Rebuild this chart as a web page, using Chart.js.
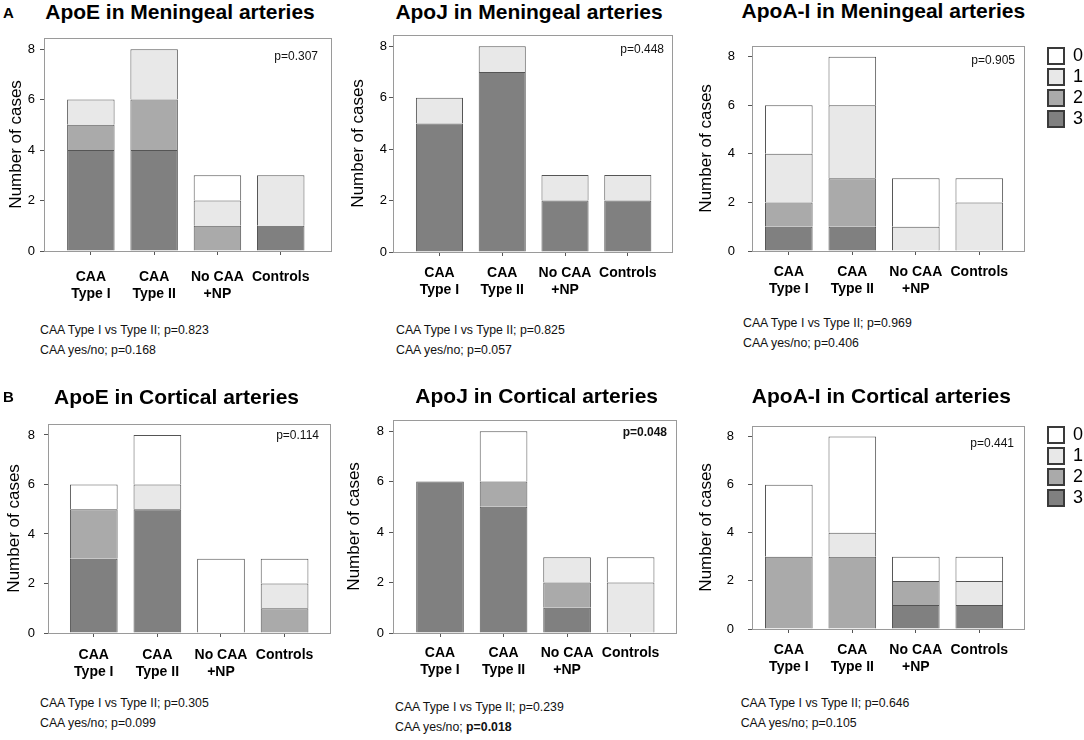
<!DOCTYPE html>
<html><head><meta charset="utf-8">
<script src="https://cdn.jsdelivr.net/npm/chart.js@4.4.1/dist/chart.umd.min.js"></script>
<style>
html,body{margin:0;padding:0;background:#fff;width:1084px;height:740px;overflow:hidden;font-family:"Liberation Sans",Arial,sans-serif;}
canvas{position:absolute;}
.t{position:absolute;white-space:nowrap;line-height:1;color:#000;}
</style></head><body>
<script>
// ---------- DATA ----------
const categoryLabels = [['CAA','Type I'],['CAA','Type II'],['No CAA','+NP'],['Controls']];
const scoreLabels = ['3','2','1','0'];          // stacked bottom -> top
const yTickValues = [0,2,4,6,8];

// ApoE in Meningeal arteries (score 3,2,1,0 per category)
const apoEMen3 = [4,4,0,1], apoEMen2 = [1,2,1,0], apoEMen1 = [1,2,1,2], apoEMen0 = [0,0,1,0];
// ApoJ in Meningeal arteries
const apoJMen3 = [5,7,2,2], apoJMen2 = [0,0,0,0], apoJMen1 = [1,1,1,1], apoJMen0 = [0,0,0,0];
// ApoA-I in Meningeal arteries
const apoAMen3 = [1,1,0,0], apoAMen2 = [1,2,0,0], apoAMen1 = [2,3,1,2], apoAMen0 = [2,2,2,1];
// ApoE in Cortical arteries
const apoECor3 = [3,5,0,0], apoECor2 = [2,0,0,1], apoECor1 = [0,1,0,1], apoECor0 = [1,2,3,1];
// ApoJ in Cortical arteries
const apoJCor3 = [6,5,1,0], apoJCor2 = [0,1,1,0], apoJCor1 = [0,0,1,2], apoJCor0 = [0,2,0,1];
// ApoA-I in Cortical arteries
const apoACor3 = [0,0,1,1], apoACor2 = [3,3,1,0], apoACor1 = [0,1,0,1], apoACor0 = [3,4,1,1];

const panelTitles = ['ApoE in Meningeal arteries','ApoJ in Meningeal arteries','ApoA-I in Meningeal arteries',
                     'ApoE in Cortical arteries','ApoJ in Cortical arteries','ApoA-I in Cortical arteries'];
const panelPValues = ['p=0.307','p=0.448','p=0.905','p=0.114','p=0.048','p=0.441'];
const typeVsTypeP = ['p=0.823','p=0.825','p=0.969','p=0.305','p=0.239','p=0.646'];
const yesNoP = ['p=0.168','p=0.057','p=0.406','p=0.099','p=0.018','p=0.105'];
const significantPanelP = [false,false,false,false,true,false];
const significantYesNoP = [false,false,false,false,true,false];
const panelSeries = [
  [apoEMen3,apoEMen2,apoEMen1,apoEMen0],
  [apoJMen3,apoJMen2,apoJMen1,apoJMen0],
  [apoAMen3,apoAMen2,apoAMen1,apoAMen0],
  [apoECor3,apoECor2,apoECor1,apoECor0],
  [apoJCor3,apoJCor2,apoJCor1,apoJCor0],
  [apoACor3,apoACor2,apoACor1,apoACor0]
];

// ---------- STYLE / LAYOUT ----------
const FONT = '"Liberation Sans", Arial, sans-serif';
const scoreFill = ['#808080','#aaaaaa','#e8e8e8','#ffffff'];
const layout = [
  {L:44, R:332, T:33, B:251, cl:0,   xmin:-0.74, xmax:3.81, yTitleX:16.5, yPad:5,  xPad:13.8, pdx:14, pdy:14, legend:false, tcx:180,   tb:18.5,  nx:40,    nb:334.5},
  {L:393,R:673, T:33, B:252, cl:340, xmin:-0.74, xmax:3.72, yTitleX:358,  yPad:2,  xPad:8.8,  pdx:9,  pdy:10, legend:false, tcx:529,   tb:18.5,  nx:396,   nb:334.5},
  {L:752,R:1025,T:33, B:251, cl:690, xmin:-0.58, xmax:3.72, yTitleX:706,  yPad:13, xPad:8.8,  pdx:10, pdy:10, legend:true,  tcx:883.4, tb:17.5,  nx:743,   nb:327.5},
  {L:48, R:331, T:415,B:633, cl:0,   xmin:-0.72, xmax:3.73, yTitleX:14,   yPad:9,  xPad:9.8,  pdx:12, pdy:7,  legend:false, tcx:176.5, tb:403.3, nx:40,    nb:707},
  {L:393,R:677, T:415,B:633, cl:340, xmin:-0.74, xmax:3.73, yTitleX:354,  yPad:5,  xPad:7.8,  pdx:10, pdy:8,  legend:false, tcx:536.7, tb:403,   nx:395,   nb:711},
  {L:752,R:1026,T:412,B:629, cl:690, xmin:-0.58, xmax:3.72, yTitleX:706,  yPad:14, xPad:8.8,  pdx:11, pdy:13, legend:true,  tcx:881.4, tb:402.3, nx:740.7, nb:707.5}
];
const X_AXIS_H = 62, TOP_PAD = 8, RIGHT_PAD = 8;
const LEGEND_LEFT_OFFSET = 20;   // gap chart area -> legend
const LEGEND_WIDTH = 39;

function addText(html, left, top, css) {
  const d = document.createElement('div');
  d.className = 't';
  d.innerHTML = html;
  d.style.left = left + 'px';
  d.style.top = top + 'px';
  Object.assign(d.style, css || {});
  document.body.appendChild(d);
  return d;
}

const framePlugin = {
  id: 'frame',
  afterDatasetsDraw(chart) {
    const a = chart.chartArea, ctx = chart.ctx;
    ctx.save();
    ctx.strokeStyle = '#9a9a9a';
    ctx.lineWidth = 1;
    ctx.strokeRect(Math.round(a.left) + 0.5, Math.round(a.top) + 0.5,
                   Math.round(a.right - a.left) - 1, Math.round(a.bottom - a.top));
    ctx.restore();
  }
};
const pValuePlugin = {
  id: 'pvalue',
  afterDraw(chart, args, opts) {
    const a = chart.chartArea, ctx = chart.ctx;
    ctx.save();
    ctx.font = (opts.bold ? 'bold ' : '') + '12px ' + FONT;
    ctx.fillStyle = '#111';
    ctx.textAlign = 'right';
    ctx.textBaseline = 'alphabetic';
    ctx.fillText(opts.text, a.right - opts.dx, a.top + opts.dy + 8.6);
    ctx.restore();
  }
};

layout.forEach((g, p) => {
  const ct = g.T - TOP_PAD;
  const cw = g.legend ? (1084 - g.cl) : (g.R + RIGHT_PAD - g.cl);
  const ch = g.B + X_AXIS_H - ct;
  const cv = document.createElement('canvas');
  cv.width = cw; cv.height = ch;
  cv.style.left = g.cl + 'px'; cv.style.top = ct + 'px';
  document.body.appendChild(cv);

  const series = panelSeries[p];
  const scales = {
    x: {
      type: 'linear', min: g.xmin, max: g.xmax, bounds: 'data', stacked: true, offset: false,
      afterBuildTicks: s => { s.ticks = categoryLabels.map((c, i) => ({value: i})); },
      afterFit: s => { s.height = X_AXIS_H; },
      grid: {display: true, offset: false, drawOnChartArea: false, drawTicks: true, tickLength: 4, tickColor: '#555', color: '#555'},
      border: {display: false},
      ticks: {autoSkip: false, maxRotation: 0, minRotation: 0, padding: g.xPad, color: '#000',
              font: {family: FONT, size: 14, weight: 'bold', lineHeight: 1.2},
              callback: v => categoryLabels[v]}
    },
    y: {
      type: 'linear', min: 0, max: 8.45, bounds: 'data', stacked: true,
      afterBuildTicks: s => { s.ticks = yTickValues.map(v => ({value: v})); },
      afterFit: s => { s.width = g.L - g.cl; },
      grid: {display: true, drawOnChartArea: false, drawTicks: true, tickLength: 4, tickColor: '#555', color: '#555'},
      border: {display: false},
      ticks: {padding: g.yPad, color: '#000', font: {family: FONT, size: 13}},
      title: {display: true, text: 'Number of cases', color: '#000',
              font: {family: FONT, size: 17, lineHeight: 1.2},
              padding: {top: Math.max(0, g.yTitleX - g.cl - 10.2), bottom: 0}}
    }
  };
  if (g.legend) {
    scales.y2 = {
      type: 'linear', position: 'right', display: true,
      grid: {display: false}, ticks: {display: false}, border: {display: false},
      afterFit: s => { s.width = LEGEND_LEFT_OFFSET; }
    };
  }

  new Chart(cv, {
    type: 'bar',
    data: {
      datasets: scoreLabels.map((s, k) => ({
        label: s,
        data: series[k].map((v, i) => ({x: i, y: v})),
        backgroundColor: scoreFill[k],
        borderColor: '#555',
        borderWidth: 1,
        barPercentage: 0.75,
        categoryPercentage: 1
      }))
    },
    options: {
      responsive: false,
      animation: false,
      layout: {padding: {top: TOP_PAD, right: g.legend ? 0 : RIGHT_PAD, bottom: 0, left: 0}},
      scales,
      plugins: {
        tooltip: {enabled: false},
        legend: {
          display: g.legend,
          position: 'right',
          align: 'start',
          maxWidth: LEGEND_WIDTH,
          title: {display: true, text: '', padding: 0, font: {size: 11, lineHeight: 1}},
          labels: {
            boxWidth: 16, boxHeight: 16, padding: 3, color: '#000',
            font: {family: FONT, size: 18},
            generateLabels: chart => {
              const items = Chart.defaults.plugins.legend.labels.generateLabels(chart);
              items.forEach(it => { it.lineWidth = 2; it.strokeStyle = '#3a3a3a'; });
              return items.reverse();
            }
          }
        },
        pvalue: {text: panelPValues[p], bold: significantPanelP[p], dx: g.pdx, dy: g.pdy}
      }
    },
    plugins: [framePlugin, pValuePlugin]
  });

  // title
  addText(panelTitles[p], g.tcx, g.tb - 0.8465 * 21,
          {fontSize: '21px', fontWeight: 'bold', transform: 'translateX(-50%)'});
  // notes
  addText('CAA Type I vs Type II; ' + typeVsTypeP[p], g.nx, g.nb - 10.4, {fontSize: '12.3px', color: '#111'});
  addText('CAA yes/no; ' + (significantYesNoP[p] ? '<b>' + yesNoP[p] + '</b>' : yesNoP[p]),
          g.nx, g.nb + 20 - 10.4, {fontSize: '12.3px', color: '#111'});
});

// panel letters
addText('A', 3, 18 - 0.8465 * 15, {fontSize: '15px', fontWeight: 'bold'});
addText('B', 3, 402 - 0.8465 * 15, {fontSize: '15px', fontWeight: 'bold'});
</script>
</body></html>
